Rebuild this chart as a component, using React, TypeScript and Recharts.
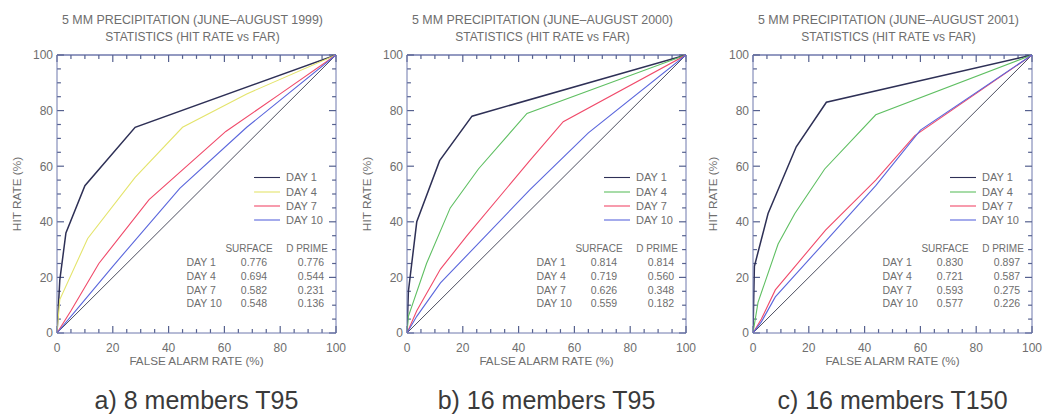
import React from 'react';
import { LineChart, Line, XAxis, YAxis, Label, ReferenceLine } from 'recharts';

// axis ticks every 5 %, labels every 20 %
const axisTicks = [0, 5, 10, 15, 20, 25, 30, 35, 40, 45, 50, 55, 60, 65, 70, 75, 80, 85, 90, 95, 100];
const labelledTicks = [0, 20, 40, 60, 80, 100];

const dayLabels = ['DAY 1', 'DAY 4', 'DAY 7', 'DAY 10'];

// no-skill diagonal
const diagFar = [0, 100];
const diagHit = [0, 100];

// a) 8 members T95, 1999
const far99Day1 = [0, 1, 3.2, 10, 28, 100];
const hit99Day1 = [0, 19, 36, 53, 74, 100];
const far99Day4 = [0, 1, 11, 28, 45, 68, 100];
const hit99Day4 = [0, 12, 34, 56, 74, 86, 100];
const far99Day7 = [0, 5, 15, 33, 60.5, 80, 100];
const hit99Day7 = [0, 8, 25, 48, 72.5, 86, 100];
const far99Day10 = [0, 5, 20, 44, 68, 100];
const hit99Day10 = [0, 6, 24, 52, 74, 100];
const surface99 = [0.776, 0.694, 0.582, 0.548];
const dprime99 = [0.776, 0.544, 0.231, 0.136];

// b) 16 members T95, 2000
const far00Day1 = [0, 0.5, 3.5, 11.7, 23.3, 100];
const hit00Day1 = [0, 15, 40, 62, 78, 100];
const far00Day4 = [0, 0.5, 7, 15.5, 25.6, 43, 100];
const hit00Day4 = [0, 6, 25, 45, 59, 79, 100];
const far00Day7 = [0, 3.5, 12, 21.5, 44, 56, 100];
const hit00Day7 = [0, 8, 23, 35, 62, 76, 100];
const far00Day10 = [0, 3.5, 12, 44, 65, 100];
const hit00Day10 = [0, 6, 18, 51.5, 72, 100];
const surface00 = [0.814, 0.719, 0.626, 0.559];
const dprime00 = [0.814, 0.56, 0.348, 0.182];

// c) 16 members T150, 2001
const far01Day1 = [0, 0.5, 5.4, 15.5, 26.3, 100];
const hit01Day1 = [0, 24, 43, 67, 83, 100];
const far01Day4 = [0, 1.8, 9, 15, 25.7, 44, 100];
const hit01Day4 = [0, 11, 32, 43, 59, 78.5, 100];
const far01Day7 = [0, 3, 8, 26, 44, 58, 100];
const hit01Day7 = [0, 5, 15.5, 37, 55, 71, 100];
const far01Day10 = [0, 3, 8, 26, 44, 60, 100];
const hit01Day10 = [0, 4, 13, 33, 53, 73, 100];
const surface01 = [0.83, 0.721, 0.593, 0.577];
const dprime01 = [0.897, 0.587, 0.275, 0.226];

const AXIS = '#6f79ad';
const TICK = '#56618f';
const TEXT = '#6e6e6e';
const FONT = '"Liberation Sans", Arial, sans-serif';
const DIAG = '#4d4f60';
const DAY1 = '#2e3056';
const YELLOW = '#e4e46c';
const GREEN = '#5fbf62';
const RED = '#f04a6a';
const BLUE = '#5a66dc';

const toPoints = (far: number[], hit: number[]) => far.map((x, i) => ({ x, y: hit[i] }));

// inward tick length in axis units (~7px major, ~4px minor)
const tickLen = (v: number) => (labelledTicks.includes(v) ? 2.5 : 1.4);

const BottomTick = (props: any) => {
  const { x, y, payload } = props;
  const v = payload.value;
  if (!labelledTicks.includes(v)) return <g />;
  return (
    <text x={x} y={y + 18.5} textAnchor="middle" fontSize={12} fill={TEXT} fontFamily={FONT}>
      {v}
    </text>
  );
};

const LeftTick = (props: any) => {
  const { x, y, payload } = props;
  const v = payload.value;
  if (!labelledTicks.includes(v)) return <g />;
  return (
    <text x={x - 4} y={y + 4.3} textAnchor="end" fontSize={12} fill={TEXT} fontFamily={FONT}>
      {v}
    </text>
  );
};

type Curve = { far: number[]; hit: number[]; color: string };

type PanelProps = {
  left: number;
  year: string;
  caption: string;
  curves: Curve[];
  surface: number[];
  dprime: number[];
};

const W = 348;
const H = 414;
const PL = 57; // plot left inside panel
const PW = 279;

// inward tick marks on all four sides
const tickSegments = () =>
  axisTicks.flatMap((v) => {
    const l = tickLen(v);
    return [
      [{ x: v, y: 0 }, { x: v, y: l }],
      [{ x: v, y: 100 }, { x: v, y: 100 - l }],
      [{ x: 0, y: v }, { x: l, y: v }],
      [{ x: 100, y: v }, { x: 100 - l, y: v }],
    ];
  });

const Panel = ({ left, year, caption, curves, surface, dprime }: PanelProps) => {
  const legendY = [177.5, 192, 206, 220];
  const rowY = [262.5, 276, 290, 303.5];
  return (
    <div style={{ position: 'absolute', left, top: 0, width: W, height: H }}>
      <LineChart width={W} height={H} margin={{ top: 55, right: 12, bottom: 57, left: 17 }}>
        <XAxis
          xAxisId="bottom"
          dataKey="x"
          type="number"
          domain={[0, 100]}
          ticks={axisTicks}
          interval={0}
          allowDataOverflow
          height={24}
          tickSize={0}
          tickMargin={0}
          tickLine={false}
          stroke={AXIS}
          tick={BottomTick}
        >
          <Label value="FALSE ALARM RATE (%)" position="bottom" offset={0} fill={TEXT} fontSize={11.7} fontFamily={FONT} />
        </XAxis>
        <YAxis
          yAxisId="left"
          type="number"
          domain={[0, 100]}
          ticks={axisTicks}
          interval={0}
          allowDataOverflow
          width={40}
          tickSize={0}
          tickMargin={0}
          tickLine={false}
          stroke={AXIS}
          tick={LeftTick}
        >
          <Label
            value="HIT RATE (%)"
            angle={-90}
            position="insideLeft"
            offset={0}
            fill={TEXT}
            fontSize={11.8}
            fontFamily={FONT}
            style={{ textAnchor: 'middle' }}
          />
        </YAxis>
        {/* top and right frame edges */}
        <ReferenceLine xAxisId="bottom" yAxisId="left" y={100} stroke={AXIS} strokeWidth={1.3} ifOverflow="visible" />
        <ReferenceLine xAxisId="bottom" yAxisId="left" x={100} stroke={AXIS} ifOverflow="visible" />
        {tickSegments().map((seg, i) => (
          <ReferenceLine
            key={`t${i}`}
            xAxisId="bottom"
            yAxisId="left"
            segment={seg}
            stroke={TICK}
            strokeWidth={1.2}
            ifOverflow="visible"
          />
        ))}
        <Line
          xAxisId="bottom"
          yAxisId="left"
          data={toPoints(diagFar, diagHit)}
          dataKey="y"
          type="linear"
          stroke={DIAG}
          strokeWidth={1}
          dot={false}
          isAnimationActive={false}
        />
        {curves.map((c, i) => (
          <Line
            key={i}
            xAxisId="bottom"
            yAxisId="left"
            data={toPoints(c.far, c.hit)}
            dataKey="y"
            type="linear"
            stroke={c.color}
            strokeWidth={i === 0 ? 1.5 : 1.1}
            dot={false}
            isAnimationActive={false}
          />
        ))}
      </LineChart>
      <svg
        width={W}
        height={H}
        style={{ position: 'absolute', left: 0, top: 0, pointerEvents: 'none' }}
        fontFamily={FONT}
      >
        <text x={PL + PW / 2 - 4} y={23.5} textAnchor="middle" fontSize={12.4} fill={TEXT}>
          {`5 MM PRECIPITATION (JUNE\u2013AUGUST ${year})`}
        </text>
        <text x={PL + PW / 2 - 4} y={41.3} textAnchor="middle" fontSize={12} fill={TEXT}>
          STATISTICS (HIT RATE vs FAR)
        </text>
        {curves.map((c, i) => (
          <g key={i}>
            <line x1={PL + 197} x2={PL + 223} y1={legendY[i]} y2={legendY[i]} stroke={c.color} strokeWidth={1.1} />
            <text x={PL + 229} y={legendY[i] + 3.9} fontSize={11} fill={TEXT}>
              {dayLabels[i]}
            </text>
          </g>
        ))}
        <text x={PL + 192} y={248 + 3.8} textAnchor="middle" fontSize={10} fill={TEXT}>
          SURFACE
        </text>
        <text x={PL + 250} y={248 + 3.8} textAnchor="middle" fontSize={10} fill={TEXT}>
          D PRIME
        </text>
        {dayLabels.map((d, i) => (
          <g key={d}>
            <text x={PL + 129.5} y={rowY[i] + 3.8} fontSize={10.5} fill={TEXT}>
              {d}
            </text>
            <text x={PL + 197} y={rowY[i] + 3.8} textAnchor="middle" fontSize={10.5} fill={TEXT}>
              {surface[i].toFixed(3)}
            </text>
            <text x={PL + 254} y={rowY[i] + 3.8} textAnchor="middle" fontSize={10.5} fill={TEXT}>
              {dprime[i].toFixed(3)}
            </text>
          </g>
        ))}
        <text x={PL + PW / 2} y={409} textAnchor="middle" fontSize={25} fill="#3a3a3a">
          {caption}
        </text>
      </svg>
    </div>
  );
};

export default function App() {
  return (
    <div
      style={{
        position: 'absolute',
        left: 0,
        top: 0,
        width: 1044,
        height: 414,
        background: '#ffffff',
        overflow: 'hidden',
        fontFamily: FONT,
      }}
    >
      <Panel
        left={0}
        year="1999"
        caption="a) 8 members T95"
        surface={surface99}
        dprime={dprime99}
        curves={[
          { far: far99Day1, hit: hit99Day1, color: DAY1 },
          { far: far99Day4, hit: hit99Day4, color: YELLOW },
          { far: far99Day7, hit: hit99Day7, color: RED },
          { far: far99Day10, hit: hit99Day10, color: BLUE },
        ]}
      />
      <Panel
        left={350}
        year="2000"
        caption="b) 16 members T95"
        surface={surface00}
        dprime={dprime00}
        curves={[
          { far: far00Day1, hit: hit00Day1, color: DAY1 },
          { far: far00Day4, hit: hit00Day4, color: GREEN },
          { far: far00Day7, hit: hit00Day7, color: RED },
          { far: far00Day10, hit: hit00Day10, color: BLUE },
        ]}
      />
      <Panel
        left={696}
        year="2001"
        caption="c) 16 members T150"
        surface={surface01}
        dprime={dprime01}
        curves={[
          { far: far01Day1, hit: hit01Day1, color: DAY1 },
          { far: far01Day4, hit: hit01Day4, color: GREEN },
          { far: far01Day7, hit: hit01Day7, color: RED },
          { far: far01Day10, hit: hit01Day10, color: BLUE },
        ]}
      />
    </div>
  );
}
